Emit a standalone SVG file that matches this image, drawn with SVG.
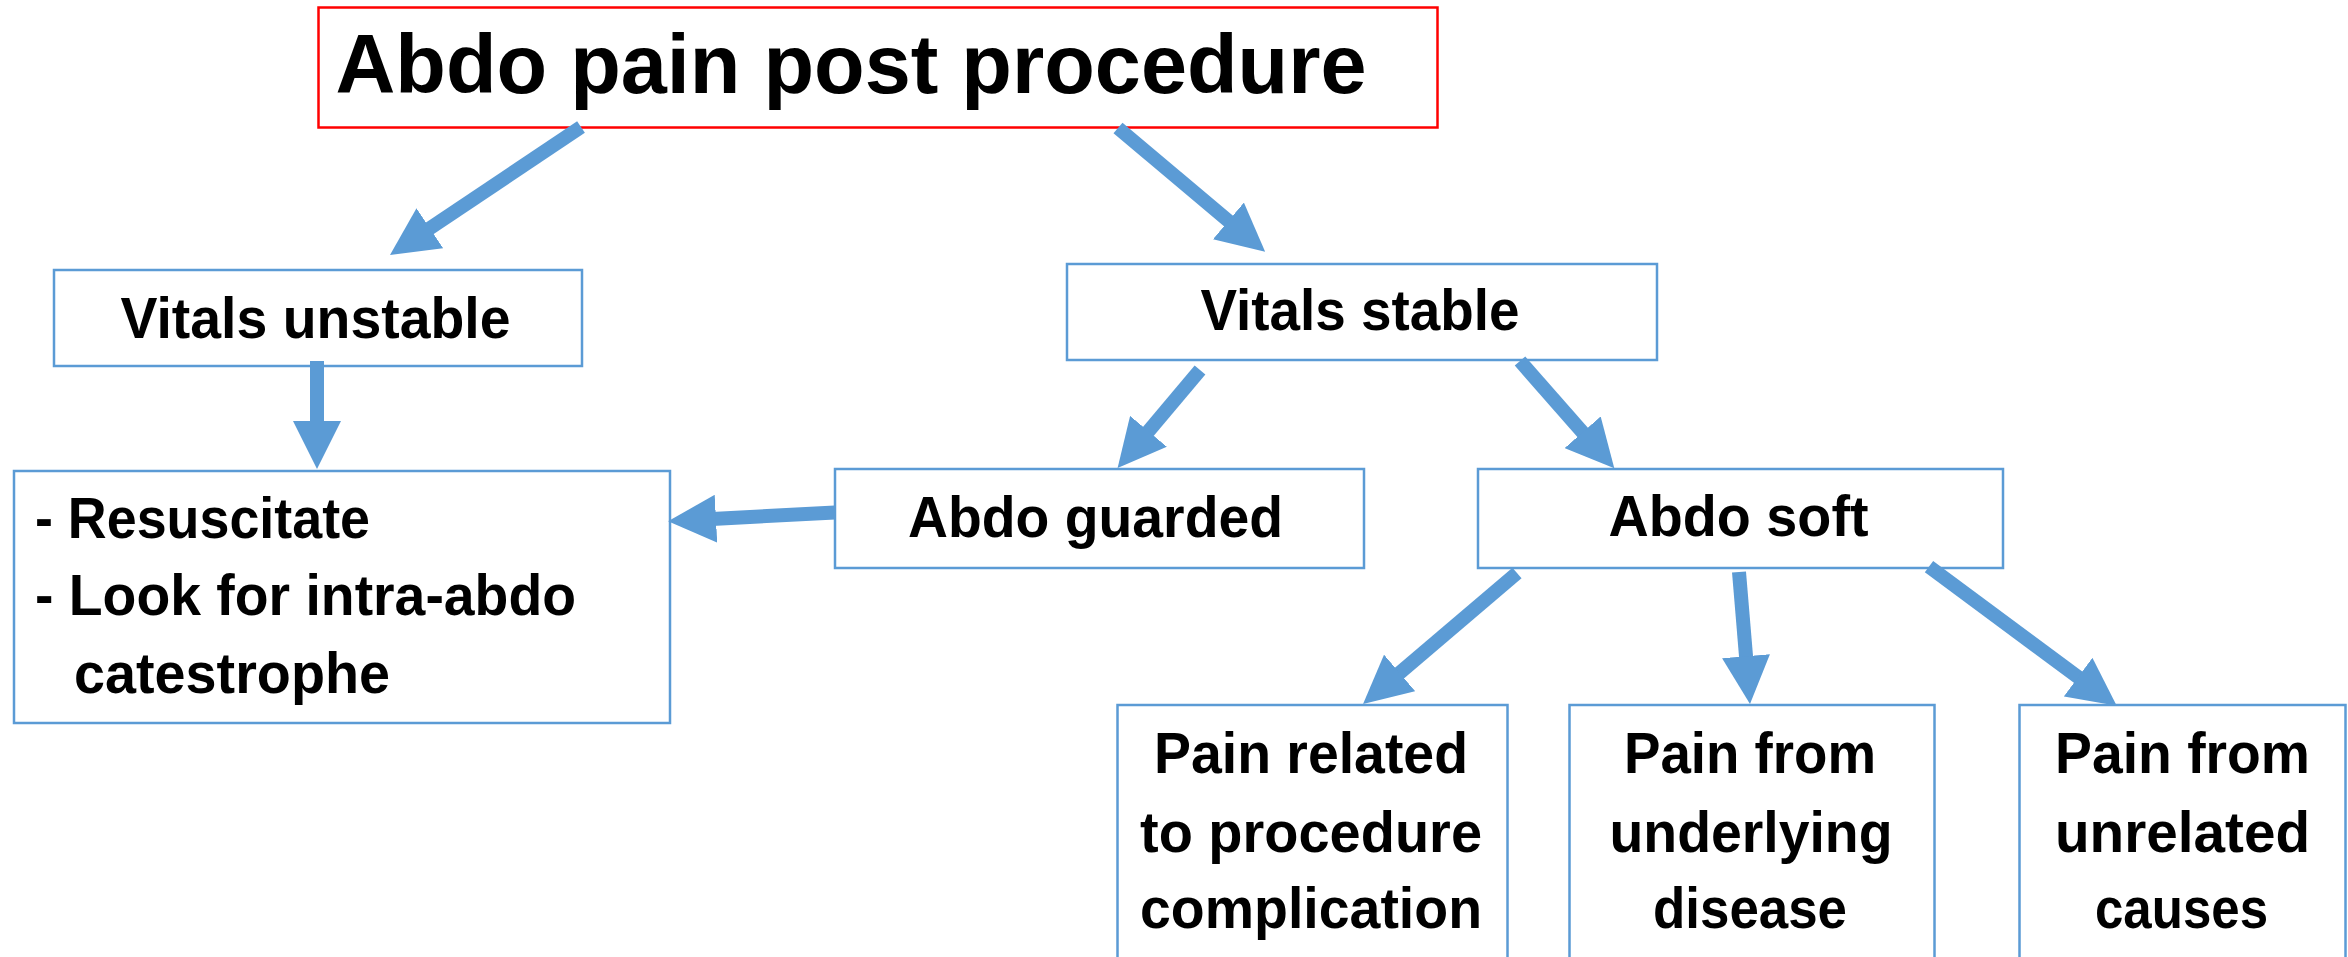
<svg xmlns="http://www.w3.org/2000/svg" width="2348" height="957" viewBox="0 0 2348 957">
  <style>
    .box { fill: #ffffff; stroke: #5B9BD5; stroke-width: 2.5; }
    .title-box { fill: #ffffff; stroke: #FF0000; stroke-width: 2.5; }
    .lbl { font-family: "Liberation Sans", Arial, sans-serif; font-weight: bold; font-size: 57px; fill: #000000; }
    .title { font-family: "Liberation Sans", Arial, sans-serif; font-weight: bold; font-size: 84px; fill: #000000; }
    .arrow { stroke: #5B9BD5; stroke-width: 14; fill: none; marker-end: url(#head); }
  </style>
  <defs>
    <marker id="head" markerUnits="userSpaceOnUse" markerWidth="48" markerHeight="48" viewBox="0 0 48 48" refX="18" refY="24" orient="auto">
      <path d="M0,0 L48,24 L0,48 z" fill="#5B9BD5"/>
    </marker>
  </defs>
  <rect width="2348" height="957" fill="#ffffff"/>

  <g id="title">
    <rect class="title-box" x="318.5" y="7.5" width="1119" height="120"/>
    <text class="title" x="335.5" y="93" textLength="1031" lengthAdjust="spacingAndGlyphs">Abdo pain post procedure</text>
  </g>

  <g id="vitals-unstable">
    <rect class="box" x="54" y="270" width="528" height="96"/>
    <text class="lbl" x="120.5" y="337.5" textLength="390" lengthAdjust="spacingAndGlyphs">Vitals unstable</text>
  </g>

  <g id="resuscitate">
    <rect class="box" x="14" y="471" width="656" height="252"/>
    <text class="lbl" x="35" y="538" textLength="335" lengthAdjust="spacingAndGlyphs">- Resuscitate</text>
    <text class="lbl" x="35" y="615" textLength="541" lengthAdjust="spacingAndGlyphs">- Look for intra-abdo</text>
    <text class="lbl" x="74" y="693" textLength="316" lengthAdjust="spacingAndGlyphs">catestrophe</text>
  </g>

  <g id="vitals-stable">
    <rect class="box" x="1067" y="264" width="590" height="96"/>
    <text class="lbl" x="1200.5" y="330" textLength="319" lengthAdjust="spacingAndGlyphs">Vitals stable</text>
  </g>

  <g id="abdo-guarded">
    <rect class="box" x="835" y="469" width="529" height="99"/>
    <text class="lbl" x="908" y="536.5" textLength="375" lengthAdjust="spacingAndGlyphs">Abdo guarded</text>
  </g>

  <g id="abdo-soft">
    <rect class="box" x="1478" y="469" width="525" height="99"/>
    <text class="lbl" x="1608.5" y="536" textLength="260" lengthAdjust="spacingAndGlyphs">Abdo soft</text>
  </g>

  <g id="pain-procedure">
    <rect class="box" x="1117.5" y="705" width="390" height="270"/>
    <text class="lbl" x="1154" y="773" textLength="314" lengthAdjust="spacingAndGlyphs">Pain related</text>
    <text class="lbl" x="1140" y="851.5" textLength="342" lengthAdjust="spacingAndGlyphs">to procedure</text>
    <text class="lbl" x="1140" y="928" textLength="342" lengthAdjust="spacingAndGlyphs">complication</text>
  </g>

  <g id="pain-underlying">
    <rect class="box" x="1569.5" y="705" width="365" height="270"/>
    <text class="lbl" x="1624" y="773" textLength="252" lengthAdjust="spacingAndGlyphs">Pain from</text>
    <text class="lbl" x="1609.5" y="851.5" textLength="283" lengthAdjust="spacingAndGlyphs">underlying</text>
    <text class="lbl" x="1653" y="928" textLength="194" lengthAdjust="spacingAndGlyphs">disease</text>
  </g>

  <g id="pain-unrelated">
    <rect class="box" x="2019.5" y="705" width="326" height="270"/>
    <text class="lbl" x="2055" y="773" textLength="255" lengthAdjust="spacingAndGlyphs">Pain from</text>
    <text class="lbl" x="2055" y="851.5" textLength="255" lengthAdjust="spacingAndGlyphs">unrelated</text>
    <text class="lbl" x="2095" y="928" textLength="173" lengthAdjust="spacingAndGlyphs">causes</text>
  </g>

  <g id="connectors">
    <line class="arrow" x1="581" y1="127" x2="414.9" y2="238.3"/>
    <line class="arrow" x1="1118" y1="128" x2="1242.2" y2="232.5"/>
    <line class="arrow" x1="317" y1="361" x2="317" y2="439"/>
    <line class="arrow" x1="1200" y1="370" x2="1136.9" y2="445.1"/>
    <line class="arrow" x1="1520" y1="361" x2="1594.5" y2="445.8"/>
    <line class="arrow" x1="835" y1="512.5" x2="698" y2="519.7"/>
    <line class="arrow" x1="1517" y1="573" x2="1385.9" y2="684.6"/>
    <line class="arrow" x1="1739" y1="572" x2="1747.5" y2="674.1"/>
    <line class="arrow" x1="1929" y1="566.7" x2="2092.6" y2="687.8"/>
  </g>
</svg>
